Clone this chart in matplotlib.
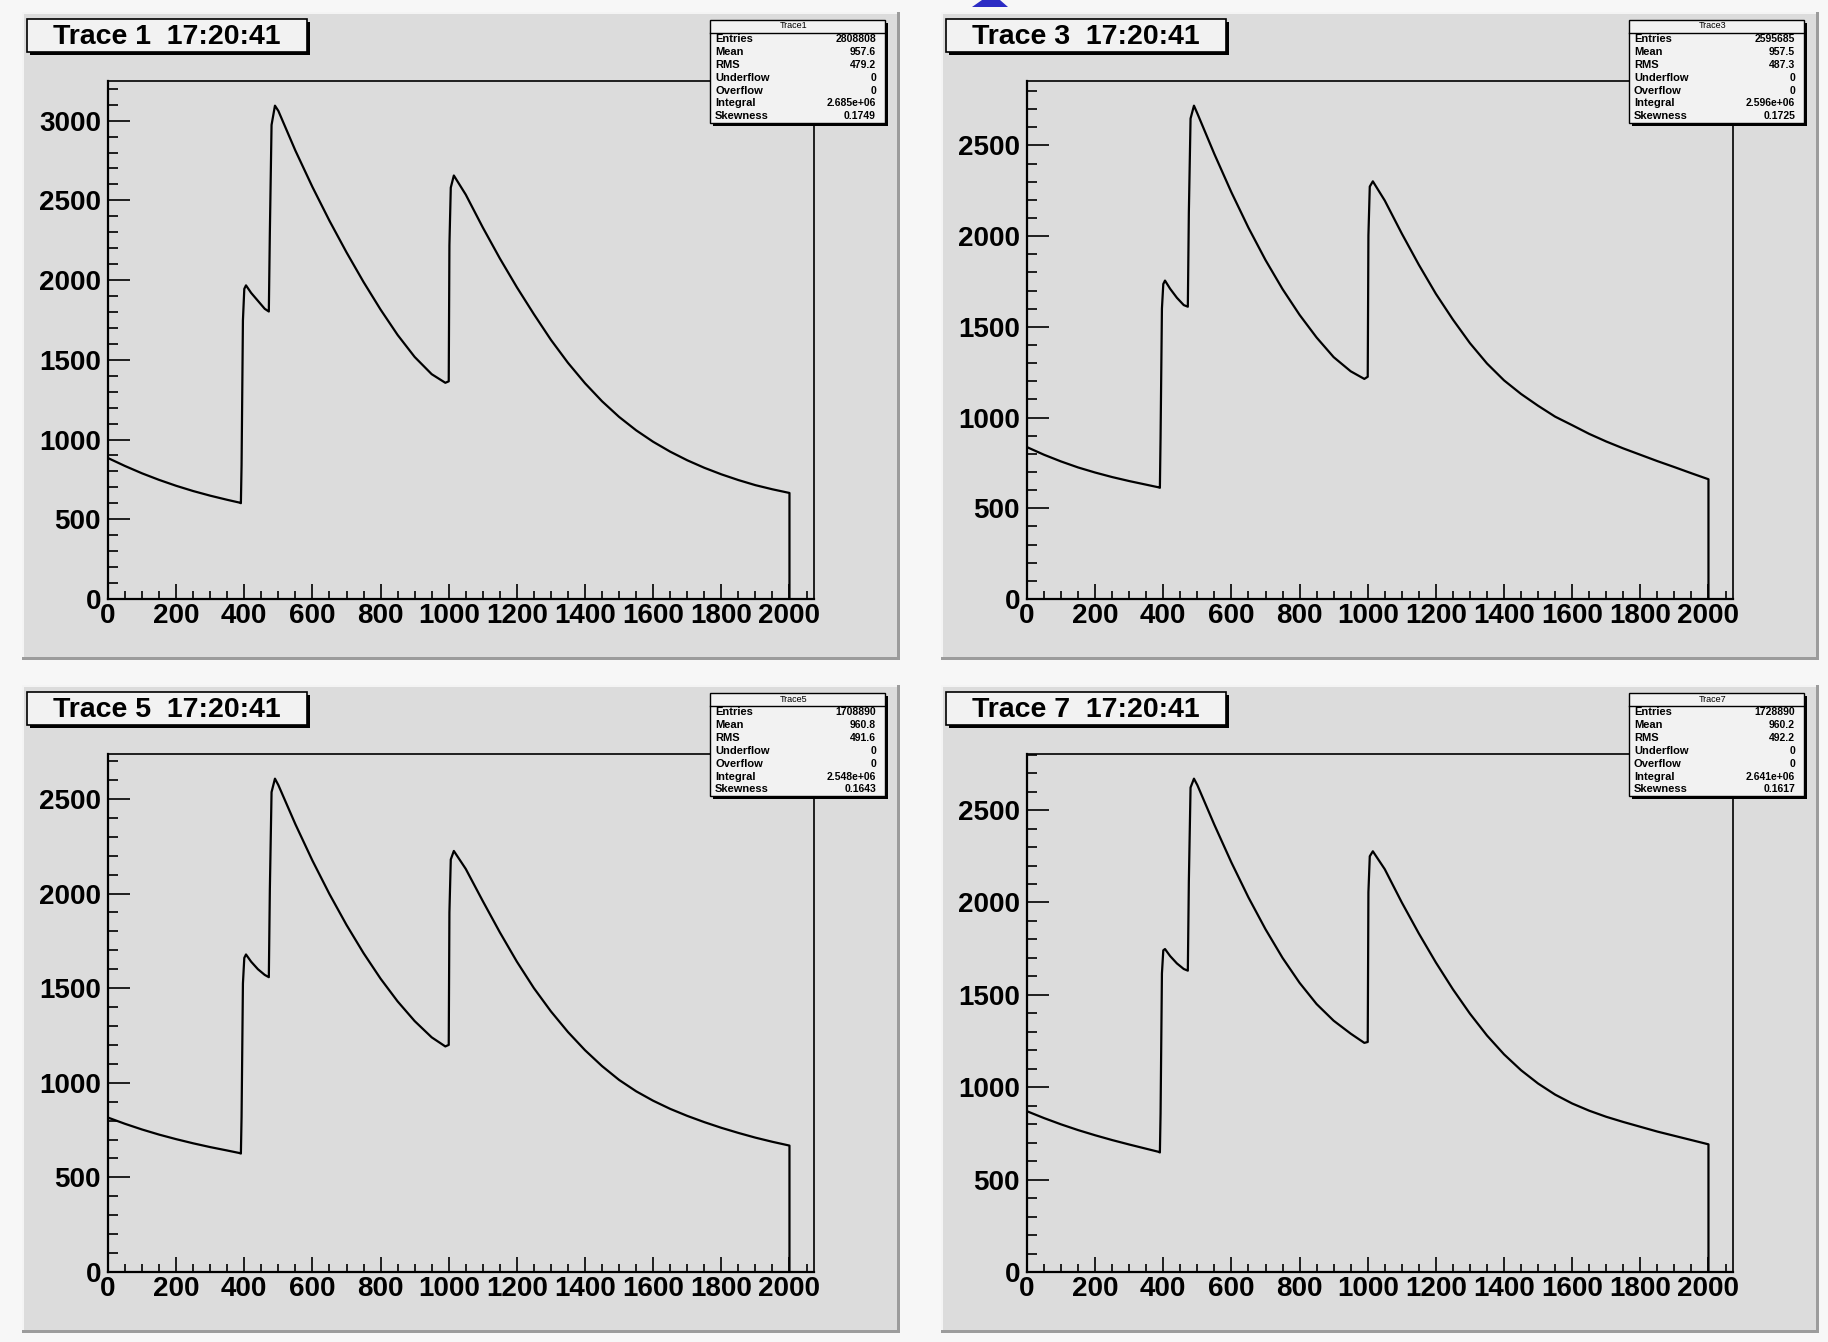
import matplotlib
matplotlib.use("Agg")
import matplotlib.pyplot as plt
from matplotlib.patches import Rectangle, Polygon
from matplotlib.lines import Line2D
from matplotlib.ticker import MultipleLocator

plt.rcParams['font.family'] = ['Liberation Sans', 'DejaVu Sans']

# sample positions (shared by the four traces), last point is the drop to zero
x_pts = [0, 50, 100, 150, 200, 250, 300, 350, 385, 390,
         392, 396, 400, 405, 420, 440, 460, 472,
         475, 480, 490,
         500, 550, 600, 650, 700, 750, 800, 850, 900, 950, 990, 1000,
         1002, 1006, 1015,
         1050, 1100, 1150, 1200, 1250, 1300, 1350, 1400, 1450, 1500,
         1550, 1600, 1650, 1700, 1750, 1800, 1850, 1900, 1950, 2000,
         2000]

trace1 = [884, 834, 788, 747, 710, 677, 648, 622, 605, 601,
          840, 1748, 1945, 1967, 1920, 1870, 1820, 1803,
          2295, 2973, 3094,
          3061, 2812, 2584, 2372, 2174, 1988, 1815, 1656, 1518, 1410, 1356, 1365,
          2219, 2580, 2656,
          2536, 2330, 2136, 1955, 1786, 1625, 1481, 1353, 1240, 1142,
          1058, 986, 924, 870, 823, 782, 746, 714, 688, 665,
          0]
trace3 = [837, 795, 758, 725, 697, 672, 650, 630, 616, 613,
          891, 1601, 1736, 1755, 1710, 1660, 1620, 1611,
          2129, 2648, 2719,
          2676, 2452, 2241, 2046, 1868, 1708, 1566, 1441, 1333, 1255, 1213, 1225,
          2004, 2273, 2302,
          2196, 2014, 1842, 1682, 1540, 1410, 1298, 1205, 1130, 1065,
          1005, 958, 910, 868, 830, 795, 760, 727, 693, 660,
          0]
trace5 = [816, 783, 753, 726, 702, 680, 660, 642, 629, 626,
          820, 1525, 1660, 1678, 1640, 1600, 1570, 1558,
          2020, 2536, 2607,
          2573, 2366, 2174, 1997, 1834, 1685, 1550, 1430, 1326, 1240, 1192, 1200,
          1900, 2180, 2225,
          2130, 1960, 1795, 1640, 1500, 1377, 1268, 1172, 1088, 1015,
          955, 905, 862, 825, 792, 762, 735, 710, 688, 668,
          0]
trace7 = [870, 833, 799, 768, 740, 714, 690, 667, 651, 647,
          857, 1616, 1741, 1748, 1710, 1670, 1640, 1631,
          2113, 2622, 2670,
          2635, 2420, 2216, 2027, 1855, 1700, 1565, 1450, 1360, 1290, 1240, 1245,
          2056, 2250, 2277,
          2180, 2000, 1832, 1675, 1530, 1398, 1280, 1178, 1092, 1020,
          960, 912, 873, 840, 812, 786, 760, 737, 714, 691,
          0]

traces = [trace1, trace3, trace5, trace7]
names = ["Trace1", "Trace3", "Trace5", "Trace7"]
titles = ["Trace 1  17:20:41", "Trace 3  17:20:41",
          "Trace 5  17:20:41", "Trace 7  17:20:41"]

stat_labels = ["Entries", "Mean", "RMS", "Underflow", "Overflow", "Integral", "Skewness"]
entries = ["2808808", "2595685", "1708890", "1728890"]
means = ["957.6", "957.5", "960.8", "960.2"]
rms = ["479.2", "487.3", "491.6", "492.2"]
underflow = ["0", "0", "0", "0"]
overflow = ["0", "0", "0", "0"]
integrals = ["2.685e+06", "2.596e+06", "2.548e+06", "2.641e+06"]
skewness = ["0.1749", "0.1725", "0.1643", "0.1617"]

W, H = 1828, 1342
fig = plt.figure(figsize=(W / 100, H / 100), dpi=100)
fig.patch.set_facecolor('#f7f7f7')


def box(x0, y0, x1, y1, **kw):
    # rectangle in pixel coords, origin top-left
    return Rectangle((x0 / W, 1 - y1 / H), (x1 - x0) / W, (y1 - y0) / H,
                     transform=fig.transFigure, **kw)


def hline(x0, x1, y, **kw):
    return Line2D([x0 / W, x1 / W], [1 - y / H, 1 - y / H], transform=fig.transFigure, **kw)


pads = [(22, 12), (941, 12), (22, 685), (941, 685)]
pad_w, pad_h = 878, 648
pad_col = '#dcdcdc'

for i, (px, py) in enumerate(pads):
    # pad with bevel
    fig.patches.append(box(px, py, px + pad_w, py + pad_h, fc=pad_col, ec='none', zorder=-3))
    fig.patches.append(box(px, py, px + pad_w, py + 2, fc='#f4f4f4', ec='none', zorder=-2))
    fig.patches.append(box(px, py, px + 2, py + pad_h, fc='#f4f4f4', ec='none', zorder=-2))
    fig.patches.append(box(px, py + pad_h - 3, px + pad_w, py + pad_h, fc='#9c9c9c', ec='none', zorder=-2))
    fig.patches.append(box(px + pad_w - 3, py, px + pad_w, py + pad_h, fc='#9c9c9c', ec='none', zorder=-2))

    ax = fig.add_axes([(px + 86) / W, 1 - (py + 587) / H, 706 / W, 518 / H])
    ax.set_facecolor(pad_col)
    ax.plot(x_pts, traces[i], color='black', lw=1.6)
    ax.set_xlim(0, 2072)
    ax.set_ylim(0, 1.05 * max(traces[i]))
    ax.xaxis.set_major_locator(MultipleLocator(200))
    ax.xaxis.set_minor_locator(MultipleLocator(50))
    ax.yaxis.set_major_locator(MultipleLocator(500))
    ax.yaxis.set_minor_locator(MultipleLocator(100))
    ax.tick_params(axis='x', which='major', direction='in', length=11, width=1.2, pad=3)
    ax.tick_params(axis='x', which='minor', direction='in', length=5.5, width=1.2)
    ax.tick_params(axis='y', which='major', direction='in', length=15.5, width=1.2, pad=5)
    ax.tick_params(axis='y', which='minor', direction='in', length=7.5, width=1.2)
    for lab in ax.get_xticklabels() + ax.get_yticklabels():
        lab.set_fontsize(20)
        lab.set_fontweight('bold')
    for side in ['left', 'bottom']:
        ax.spines[side].set_linewidth(1.6)
    for side in ['top', 'right']:
        ax.spines[side].set_linewidth(1.2)

    # title pave
    fig.patches.append(box(px + 8, py + 10, px + 288, py + 43, fc='black', ec='none', zorder=2))
    fig.patches.append(box(px + 5, py + 7, px + 285, py + 40, fc='#f2f2f2', ec='black', lw=1.2, zorder=3))
    fig.text((px + 145) / W, 1 - (py + 25) / H, titles[i], ha='center', va='center',
             fontsize=20.5, fontweight='bold', zorder=4)

    # stats box
    sx0, sy0, sx1, sy1 = px + 688, py + 8, px + 863, py + 111
    fig.patches.append(box(sx0 + 3, sy0 + 3, sx1 + 3, sy1 + 3, fc='black', ec='none', zorder=2))
    fig.patches.append(box(sx0, sy0, sx1, sy1, fc='#f2f2f2', ec='black', lw=1.0, zorder=3))
    fig.lines.append(hline(sx0, sx1, sy0 + 13, color='black', lw=1.0, zorder=4))
    fig.text((sx0 + sx1) / 2 / W - 4 / W, 1 - (sy0 + 6) / H, names[i], ha='center', va='center',
             fontsize=6.5, zorder=4)
    values = [entries[i], means[i], rms[i], underflow[i], overflow[i], integrals[i], skewness[i]]
    for k, (lab, val) in enumerate(zip(stat_labels, values)):
        yy = 1 - (sy0 + 19 + k * 12.9) / H
        fig.text((sx0 + 5) / W, yy, lab, ha='left', va='center', fontsize=8,
                 fontweight='bold', zorder=4)
        fig.text((sx1 - 9) / W, yy, val, ha='right', va='center', fontsize=7.5,
                 fontweight='bold', zorder=4)

# small blue marker at the top edge
fig.patches.append(Polygon([(972 / W, 1 - 7 / H), (982 / W, 1.0), (1000 / W, 1.0), (1008 / W, 1 - 7 / H)],
                           closed=True, transform=fig.transFigure, fc='#2b2bc4', ec='none', zorder=5))

fig.savefig("out.png", dpi=100, facecolor=fig.get_facecolor())
